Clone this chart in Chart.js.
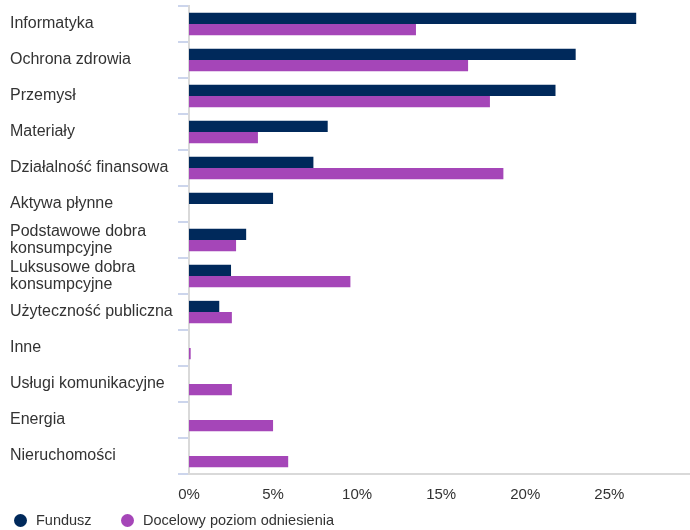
<!DOCTYPE html>
<html><head><meta charset="utf-8">
<script src="https://cdn.jsdelivr.net/npm/chart.js@4"></script>
<style>
html,body{margin:0;padding:0;background:#fff}
#wrap{position:relative;width:690px;height:530px}
#legend{position:absolute;left:0;top:511px;height:18px;font-family:Arial,"Liberation Sans",sans-serif;font-size:14.5px;color:#333}
.item{position:absolute;top:0;white-space:nowrap;line-height:18px}
.dot{position:absolute;top:2.5px;width:13px;height:13px;border-radius:50%}
</style>
</head><body><div id="wrap"><canvas id="c"></canvas>
<div id="legend"></div></div>
<script>
const categories = ['Informatyka','Ochrona zdrowia','Przemysł','Materiały','Działalność finansowa','Aktywa płynne',['Podstawowe dobra','konsumpcyjne'],['Luksusowe dobra','konsumpcyjne'],'Użyteczność publiczna','Inne','Usługi komunikacyjne','Energia','Nieruchomości'];
const fundusz = [26.6, 23.0, 21.8, 8.25, 7.4, 5.0, 3.4, 2.5, 1.8, 0, 0, 0, 0];
const docelowy = [13.5, 16.6, 17.9, 4.1, 18.7, 0, 2.8, 9.6, 2.55, 0.1, 2.55, 5.0, 5.9];
const seriesNames = ['Fundusz','Docelowy poziom odniesienia'];
const seriesColors = ['#00295b','#a546b8'];
const xTicks = [0,5,10,15,20,25];

Chart.defaults.font.family = 'Arial, "Liberation Sans", sans-serif';
Chart.defaults.color = '#333';
const chart = new Chart(document.getElementById('c'), {
  type: 'bar',
  data: {
    labels: categories,
    datasets: [
      {label: seriesNames[0], data: fundusz, backgroundColor: seriesColors[0], categoryPercentage: 0.62, barPercentage: 1},
      {label: seriesNames[1], data: docelowy, backgroundColor: seriesColors[1], categoryPercentage: 0.62, barPercentage: 1}
    ]
  },
  options: {
    indexAxis: 'y',
    responsive: true,
    maintainAspectRatio: false,
    animation: false,
    layout: {padding: {left: 10, right: 0, top: 6, bottom: 14}},
    plugins: {
      tooltip: {enabled: false},
      legend: {display: false}
    },
    scales: {
      x: {
        min: 0, max: 29.8,
        afterBuildTicks: s => { s.ticks = xTicks.map(v => ({value: v})); },
        afterFit: s => { s.paddingLeft = 0; s.paddingRight = 0; },
        grid: {display: false, drawTicks: false},
        border: {display: true, color: '#d9d9d9', width: 2},
        ticks: {padding: 12, font: {size: 15}, color: '#333', callback: v => v + '%'}
      },
      y: {
        grid: {offset: true, drawOnChartArea: false, drawTicks: true, tickLength: 11, color: '#ccd5ec', lineWidth: 2},
        border: {display: true, color: '#d9d9d9', width: 2},
        afterFit: s => { s.width = 179; s.paddingTop = 0; s.paddingBottom = 0; },
        ticks: {crossAlign: 'far', padding: 12, font: {size: 16, lineHeight: 1.1}, color: '#333', autoSkip: false}
      }
    }
  }
});

// HTML legend built from the datasets
const legendPos = [{dot: 13.5, text: 36}, {dot: 120.5, text: 143}];
const lg = document.getElementById('legend');
chart.data.datasets.forEach((ds, i) => {
  const d = document.createElement('span');
  d.className = 'dot'; d.style.left = legendPos[i].dot + 'px'; d.style.background = ds.backgroundColor;
  const t = document.createElement('span');
  t.className = 'item'; t.style.left = legendPos[i].text + 'px'; t.textContent = ds.label;
  lg.appendChild(d); lg.appendChild(t);
});
</script></body></html>
